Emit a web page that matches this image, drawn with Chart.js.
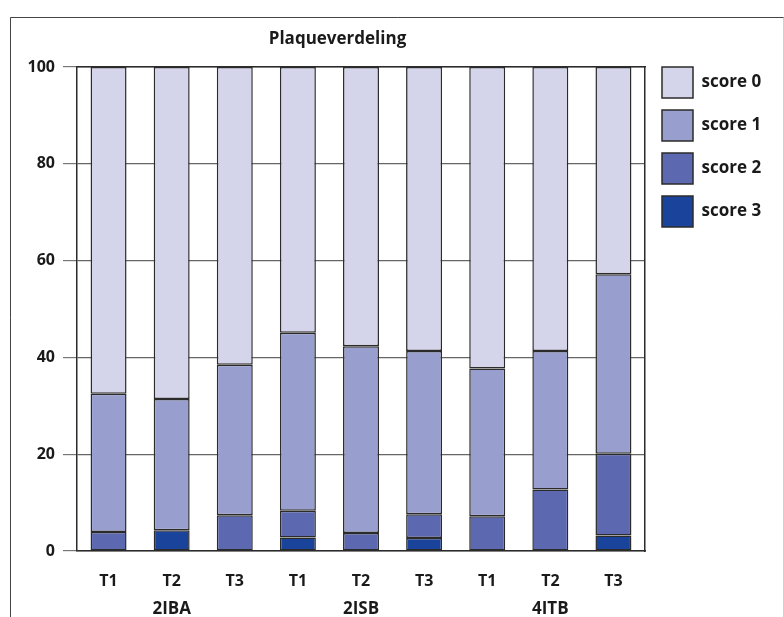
<!DOCTYPE html>
<html>
<head>
<meta charset="utf-8">
<title>Plaqueverdeling</title>
<script src="https://cdn.jsdelivr.net/npm/chart.js@4/dist/chart.umd.min.js"></script>
<style>
  html, body { margin: 0; padding: 0; background: #fff; }
  #wrap { position: relative; width: 784px; height: 617px; }
  canvas { display: block; }
</style>
</head>
<body>
<div id="wrap"><canvas id="chart" width="784" height="617"></canvas></div>
<script>
// Moments of measurement per class
const categories = ['T1', 'T2', 'T3', 'T1', 'T2', 'T3', 'T1', 'T2', 'T3'];
const groups = ['2IBA', '2ISB', '4ITB'];
const yTicks = [0, 20, 40, 60, 80, 100];

// Share of plaque scores (%) per bar, bottom to top
const score3 = [0, 4.3, 0, 2.8, 0, 2.7, 0, 0, 3.2];
const score2 = [3.9, 0, 7.4, 5.5, 3.7, 4.9, 7.2, 12.7, 16.9];
const score1 = [28.6, 27.1, 31.1, 36.8, 38.6, 33.7, 30.5, 28.6, 37.1];
const score0 = [67.5, 68.6, 61.5, 54.9, 57.7, 58.7, 62.3, 58.7, 42.8];

const seriesNames = ['score 3', 'score 2', 'score 1', 'score 0'];
const seriesValues = [score3, score2, score1, score0];
const seriesColors = ['#1a449c', '#5c68b0', '#989fcf', '#d4d4eb'];

const FONT = '"Open Sans", "DejaVu Sans", sans-serif';
const INK = '#1a1a1a';
const EDGE = '#2b2b2b';

// Outer frame and heading
const framePlugin = {
  id: 'frame',
  beforeDraw(chart) {
    const ctx = chart.ctx;
    ctx.save();
    ctx.fillStyle = '#ffffff';
    ctx.fillRect(0, 0, chart.width, chart.height);
    ctx.strokeStyle = '#444';
    ctx.lineWidth = 1;
    ctx.beginPath();
    ctx.moveTo(10.5, chart.height);
    ctx.lineTo(10.5, 17.5);
    ctx.lineTo(chart.width, 17.5);
    ctx.stroke();
    ctx.strokeStyle = '#cfcfcf';
    ctx.beginPath();
    ctx.moveTo(783.5, 17.5);
    ctx.lineTo(783.5, chart.height);
    ctx.stroke();
    ctx.restore();
  },
  afterDraw(chart) {
    const ctx = chart.ctx;
    ctx.save();
    ctx.fillStyle = INK;
    ctx.font = 'bold 17px ' + FONT;
    ctx.textAlign = 'center';
    ctx.textBaseline = 'alphabetic';
    ctx.fillText('Plaqueverdeling', 337.5, 44);
    ctx.restore();
  }
};

const datasets = seriesNames.map((name, i) => ({
  label: name,
  data: seriesValues[i],
  backgroundColor: seriesColors[i],
  borderColor: EDGE,
  borderWidth: 1.5,
  borderSkipped: false,
  barPercentage: 0.57,
  categoryPercentage: 1.0
}));

new Chart(document.getElementById('chart'), {
  type: 'bar',
  data: { labels: categories, datasets },
  plugins: [framePlugin],
  options: {
    responsive: false,
    animation: false,
    devicePixelRatio: 1,
    layout: { padding: { top: 55, right: 19, bottom: 0, left: 0 } },
    plugins: {
      title: { display: false },
      tooltip: { enabled: false },
      legend: {
        position: 'right',
        align: 'start',
        reverse: true,
        maxWidth: 115,
        labels: {
          boxWidth: 31,
          boxHeight: 31,
          padding: 12,
          color: INK,
          font: { family: FONT, size: 17, weight: 'bold' }
        }
      }
    },
    scales: {
      y: {
        stacked: true,
        min: 0,
        max: 100,
        afterBuildTicks(scale) { scale.ticks = yTicks.map(v => ({ value: v })); },
        afterFit(scale) { scale.width = 77; },
        ticks: {
          padding: 8,
          color: INK,
          font: { family: FONT, size: 16, weight: 'bold' }
        },
        grid: { color: '#666', lineWidth: 1.2, tickLength: 14, tickColor: '#777' },
        border: { color: EDGE, width: 1.5 }
      },
      x: {
        stacked: true,
        afterFit(scale) { scale.height = 40; },
        ticks: {
          padding: 13,
          color: INK,
          font: { family: FONT, size: 16, weight: 'bold' }
        },
        grid: { display: false },
        border: { color: EDGE, width: 1.5 }
      },
      group: {
        type: 'category',
        position: 'bottom',
        labels: groups,
        offset: true,
        afterFit(scale) { scale.height = 26; },
        ticks: {
          padding: 0,
          color: INK,
          font: { family: FONT, size: 17, weight: 'bold' }
        },
        grid: { display: false },
        border: { display: false }
      },
      frameTop: {
        type: 'category',
        position: 'top',
        labels: categories,
        afterFit(scale) { scale.height = 12; },
        ticks: { display: false },
        grid: { display: false },
        border: { color: EDGE, width: 1.5 }
      },
      frameRight: {
        type: 'linear',
        position: 'right',
        min: 0,
        max: 100,
        afterFit(scale) { scale.width = 5; },
        ticks: { display: false },
        grid: { display: false },
        border: { color: EDGE, width: 1.5 }
      }
    }
  }
});
</script>
</body>
</html>
